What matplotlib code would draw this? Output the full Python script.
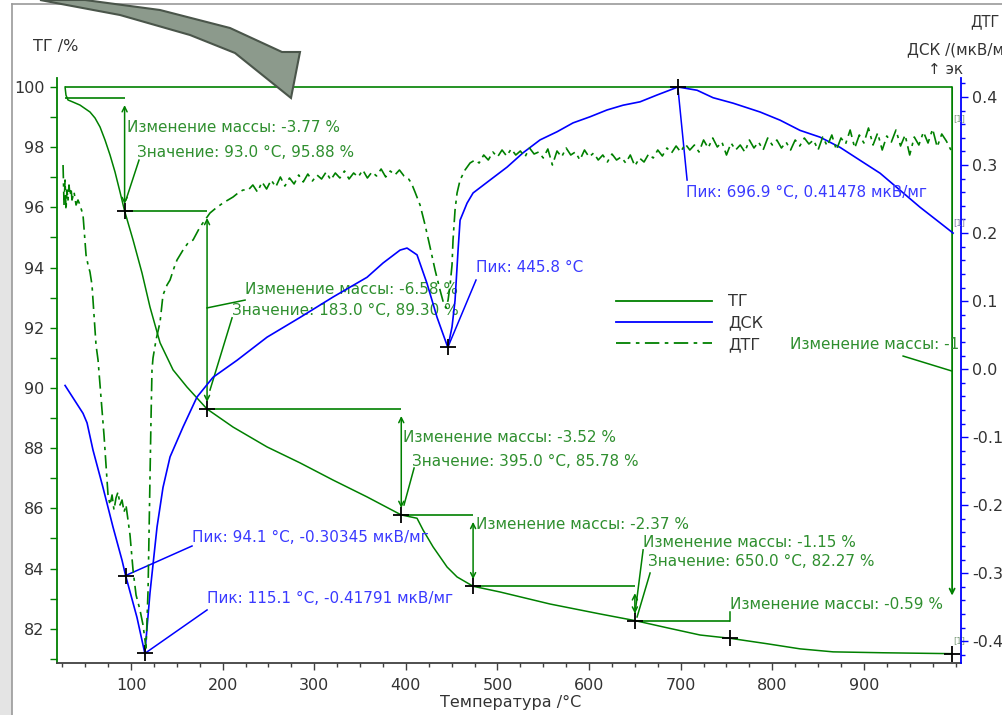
import numpy as np
import matplotlib.pyplot as plt
from matplotlib.ticker import MultipleLocator
from matplotlib.patches import Polygon, Rectangle
from matplotlib.lines import Line2D

plt.rcParams['font.family'] = ['DejaVu Sans']

GREEN = '#008000'
BLUE = '#0000ff'
TXT = '#333333'
GTXT = '#2f8f2f'
BTXT = '#3a3aff'

# ---------------- data ----------------
# TG, %
tg_temp = [28.0, 29.0, 31.2, 36.7, 44.3, 55.2, 60.7, 66.2, 71.6, 77.1, 82.5, 88.0,
           93.0, 102.2, 112.0, 120.7, 131.7, 145.9, 161.1, 183.0, 211.4, 248.5,
           284.5, 320.5, 357.6, 395.0, 412.2, 418.8, 429.7, 445.0, 455.9, 473.4,
           502.8, 557.4, 612.0, 650.0, 685.2, 721.2, 754.0, 794.3, 830.3, 866.4,
           921.0, 996.3]
tg_mass = [100.00, 99.73, 99.57, 99.50, 99.40, 99.17, 98.97, 98.67, 98.24, 97.74,
           97.18, 96.51, 95.88, 94.92, 93.82, 92.69, 91.50, 90.60, 90.03, 89.30,
           88.70, 88.04, 87.51, 86.94, 86.38, 85.78, 85.67, 85.28, 84.72, 84.05,
           83.72, 83.41, 83.22, 82.82, 82.49, 82.27, 82.03, 81.79, 81.68, 81.50,
           81.33, 81.23, 81.20, 81.17]

# DSC, mkV/mg
dsc_temp = [28.0, 47.6, 52.0, 58.5, 69.4, 80.3, 90.2, 94.1, 106.5, 115.1, 120.7,
            128.4, 134.9, 142.6, 156.8, 172.0, 189.5, 215.7, 248.5, 284.5, 320.5,
            357.6, 375.1, 393.7, 401.3, 412.2, 423.1, 434.1, 445.8, 450.4, 453.7,
            457.0, 459.2, 466.8, 473.4, 491.9, 510.5, 527.9, 546.5, 565.1, 582.5,
            601.1, 619.6, 637.1, 655.7, 674.2, 691.7, 696.9, 717.9, 735.4, 757.2,
            786.7, 808.5, 830.3, 852.2, 874.0, 895.8, 917.7, 939.5, 961.3, 983.2,
            997.4]
dsc_val = [-0.024, -0.065, -0.079, -0.119, -0.174, -0.232, -0.281, -0.30345,
           -0.365, -0.41791, -0.329, -0.232, -0.174, -0.129, -0.085, -0.041,
           -0.012, 0.013, 0.047, 0.076, 0.106, 0.135, 0.156, 0.175, 0.178, 0.168,
           0.126, 0.076, 0.032, 0.062, 0.101, 0.175, 0.219, 0.244, 0.259, 0.278,
           0.297, 0.318, 0.337, 0.349, 0.362, 0.371, 0.381, 0.388, 0.393, 0.403,
           0.412, 0.41478, 0.410, 0.399, 0.391, 0.378, 0.366, 0.351, 0.341, 0.326,
           0.307, 0.288, 0.263, 0.238, 0.215, 0.200]

# DTG, %/min
dtg_temp = [25.8, 26.9, 28.0, 29.0, 30.1, 31.2, 32.3, 33.4, 34.5, 35.6, 37.8, 40.0,
            42.1, 44.3, 47.6, 50.9, 53.1, 55.2, 57.4, 59.6, 61.8, 64.0, 66.2, 68.3,
            70.5, 72.7, 74.9, 77.1, 79.3, 81.4, 83.6, 85.8, 88.0, 90.2, 92.4, 94.5,
            96.7, 98.9, 102.2, 105.5, 109.8, 113.1, 115.3, 116.4, 117.5, 118.6,
            119.7, 120.7, 121.8, 122.9, 124.0, 127.3, 131.7, 134.9, 139.3, 142.6,
            146.9, 150.2, 156.8, 162.2, 167.7, 175.3, 180.8, 186.2, 192.8, 200.4,
            205.9, 211.4, 216.8, 222.3,
            228, 233, 238, 243, 248, 253, 258, 263, 268, 273, 278, 283, 288, 293,
            298, 303, 308, 313, 318, 323, 328, 333, 338, 343, 348, 353, 358, 363,
            368, 373, 378, 383, 388, 393, 398, 403, 406,
            410.0, 415.5, 421.0, 426.4, 431.9, 437.3, 441.7, 443.9, 446.1, 448.3,
            450.4, 451.5, 453.7, 455.9, 459.2, 464.6, 470.1, 475.5,
            480, 485, 490, 495, 500, 505, 510, 515, 520, 525, 530, 535, 540, 545,
            550, 555, 560, 565, 570, 575, 580, 585, 590, 595, 600, 605, 610, 615,
            620, 625, 630, 635, 640, 645, 650, 655, 660, 665, 670, 675, 680, 685,
            690, 695, 700, 705, 710, 715, 720, 725, 730, 735, 740, 745, 750, 755,
            760, 765, 770, 775, 780, 785, 790, 795, 800, 805, 810, 815, 820, 825,
            830, 835, 840, 845, 850, 855, 860, 865, 870, 875, 880, 885, 890, 895,
            900, 905, 910, 915, 920, 925, 930, 935, 940, 945, 950, 955, 960, 965,
            970, 975, 980, 985, 990, 995]
dtg_val = [0.00, -0.40, -0.15, -0.45, -0.25, -0.35, -0.20, -0.30, -0.23, -0.35,
           -0.27, -0.40, -0.35, -0.40, -0.50, -0.90, -1.00, -1.07, -1.20, -1.50,
           -1.80, -1.95, -2.20, -2.45, -2.70, -3.00, -3.30, -3.40, -3.30, -3.45,
           -3.33, -3.27, -3.40, -3.35, -3.47, -3.40, -3.55, -3.70, -4.05, -4.30,
           -4.45, -4.60, -4.75, -4.83, -4.55, -4.25, -3.65, -3.15, -2.55, -2.05,
           -1.93, -1.75, -1.57, -1.30, -1.20, -1.15, -1.03, -0.95, -0.85, -0.78,
           -0.75, -0.62, -0.55, -0.48, -0.43, -0.38, -0.35, -0.32, -0.28, -0.25,
           -0.25, -0.20, -0.27, -0.17, -0.24, -0.15, -0.22, -0.12, -0.21, -0.13,
           -0.19, -0.10, -0.17, -0.09, -0.16, -0.10, -0.14, -0.07, -0.15, -0.08,
           -0.13, -0.06, -0.14, -0.08, -0.12, -0.05, -0.13, -0.07, -0.11, -0.04,
           -0.12, -0.06, -0.10, -0.05, -0.11, -0.14, -0.18,
           -0.27, -0.40, -0.60, -0.82, -1.05, -1.25, -1.40, -1.43, -1.35, -1.20,
           -1.00, -0.75, -0.45, -0.28, -0.15, -0.05, 0.02, 0.05,
           0.02, 0.10, 0.05, 0.13, 0.08, 0.15, 0.09, 0.16, 0.10, 0.14, 0.08, 0.17,
           0.11, 0.13, 0.07, 0.16, 0.00, 0.14, 0.08, 0.17, 0.10, 0.13, 0.05, 0.15,
           0.08, 0.12, 0.05, 0.10, 0.03, 0.11, 0.05, 0.08, 0.02, 0.10, -0.01, 0.07,
           0.03, 0.11, 0.07, 0.15, 0.09, 0.17, 0.12, 0.19, 0.13, 0.21, 0.15, 0.20,
           0.13, 0.25, 0.17, 0.27, 0.18, 0.23, 0.10, 0.22, 0.15, 0.20, 0.13, 0.25,
           0.17, 0.23, 0.15, 0.27, 0.20, 0.25, 0.17, 0.23, 0.15, 0.25, 0.19, 0.27,
           0.21, 0.25, 0.15, 0.28, 0.19, 0.30, 0.15, 0.27, 0.21, 0.35, 0.17, 0.30,
           0.22, 0.37, 0.20, 0.32, 0.15, 0.29, 0.23, 0.35, 0.19, 0.30, 0.10, 0.28,
           0.20, 0.33, 0.22, 0.36, 0.18, 0.31, 0.24, 0.15]

# mass change steps (ТГ)
step_temp = [28.0, 93.0, 183.0, 395.0, 473.4, 650.0, 754.0]
step_mass = [99.63, 95.88, 89.30, 85.78, 83.41, 82.27, 81.68]
step_change = ['-3.77', '-6.58', '-3.52', '-2.37', '-1.15', '-0.59']
total_change_visible = '-1'   # the rest is hidden behind the right axis in the original
end_temp = 996.3
end_mass = 81.17

# DSC peaks
peak_temp = [94.1, 115.1, 445.8, 696.9]
peak_val = [-0.30345, -0.41791, 0.032, 0.41478]
peak_text = ['Пик: 94.1 °C, -0.30345 мкВ/мг', 'Пик: 115.1 °C, -0.41791 мкВ/мг',
             'Пик: 445.8 °C', 'Пик: 696.9 °C, 0.41478 мкВ/мг']

# ---------------- figure ----------------
W, H = 1003, 715
fig = plt.figure(figsize=(W / 100, H / 100), dpi=100)

def fx(px):
    return px / W

def fy(py):
    return 1 - py / H

# slide background / frame
fig.patches.append(Rectangle((0, 0), fx(12), fy(180), transform=fig.transFigure,
                             facecolor='#e4e4e4', edgecolor='none', zorder=0))
fig.add_artist(Line2D([fx(12), fx(12)], [0, fy(4)], color='#9a9a9a', lw=1.2))
fig.add_artist(Line2D([fx(12), 1], [fy(4), fy(4)], color='#9a9a9a', lw=1.2))

ax = fig.add_axes([fx(57), fy(663), fx(961 - 57), (663 - 78) / H])
ax2 = ax.twinx()
ax3 = ax.twinx()

ax.plot(tg_temp, tg_mass, color=GREEN, lw=1.1, zorder=3)
ax2.plot(dsc_temp, dsc_val, color=BLUE, lw=1.2, zorder=3)
ax3.plot(dtg_temp, dtg_val, color=GREEN, lw=1.2, ls=(0, (8, 3, 2, 3)), zorder=3)

ax.set_xlim(19.2, 1006)
ax.set_ylim(80.86, 100.3)
ax2.set_ylim(-0.432, 0.428)
ax3.set_ylim(-4.98, 0.87)

# spines / ticks
for s in ['top', 'right']:
    ax.spines[s].set_visible(False)
ax.spines['left'].set_color(GREEN)
ax.spines['left'].set_linewidth(1.3)
ax.spines['bottom'].set_color('#404040')
ax.spines['bottom'].set_linewidth(1.3)
for s in ['top', 'left', 'bottom']:
    ax2.spines[s].set_visible(False)
ax2.spines['right'].set_color(BLUE)
ax2.spines['right'].set_linewidth(1.3)
for s in ax3.spines.values():
    s.set_visible(False)
ax3.set_yticks([])

ax.set_xticks(range(100, 1000, 100))
ax.xaxis.set_minor_locator(MultipleLocator(25))
ax.set_yticks(range(82, 101, 2))
ax.yaxis.set_minor_locator(MultipleLocator(1))
ax.tick_params(axis='y', which='both', direction='out', length=5, width=1,
               color=GREEN, labelcolor=TXT, labelsize=11.5, pad=4)
ax.tick_params(axis='x', which='major', direction='out', length=5, width=1,
               color='#404040', labelcolor=TXT, labelsize=11.5, pad=6)
ax.tick_params(axis='x', which='minor', direction='out', length=3, width=1,
               color='#404040')
ax2.set_yticks([-0.4, -0.3, -0.2, -0.1, 0.0, 0.1, 0.2, 0.3, 0.4])
ax2.set_yticklabels(['-0.4', '-0.3', '-0.2', '-0.1', '0.0', '0.1', '0.2', '0.3', '0.4'])
ax2.yaxis.set_minor_locator(MultipleLocator(0.02))
ax2.tick_params(axis='y', which='major', direction='out', length=5, width=1,
                color=BLUE, labelcolor=TXT, labelsize=11.5, pad=3)
ax2.tick_params(axis='y', which='minor', direction='out', length=3, width=1,
                color=BLUE)

# ---------------- mass change annotations ----------------
fs = 11
ax.hlines(100, step_temp[0], end_temp, color=GREEN, lw=1.2, zorder=2)
arrow_kw = dict(arrowstyle='<->', color=GREEN, lw=1.1, mutation_scale=9,
                shrinkA=5, shrinkB=5)
for i in range(1, len(step_temp)):
    t0, t1 = step_temp[i - 1], step_temp[i]
    m0, m1 = step_mass[i - 1], step_mass[i]
    ax.hlines(m0, t0, t1, color=GREEN, lw=1.2, zorder=2)
    if i < len(step_temp) - 1:
        ax.annotate('', xy=(t1, m1), xytext=(t1, m0), arrowprops=arrow_kw, zorder=2)
    ax.plot(t1, m1, marker='+', color='black', ms=11, mew=1.3, zorder=5)

# text positions (data coords of the TG axis)
chg_pos = [(95.6, 98.64), (224.5, 93.26), (396.9, 88.37), (476.6, 85.45),
           (659.0, 84.88), (754.0, 82.79)]
for (tx, ty), c in zip(chg_pos, step_change):
    ax.text(tx, ty, 'Изменение массы: ' + c + ' %', color=GTXT, fontsize=fs,
            va='center', ha='left', zorder=6)

val_idx = [1, 2, 3, 5]
val_pos = [(106.6, 97.84), (210.3, 92.56), (406.8, 87.57), (664.4, 84.22)]
for i, (tx, ty) in zip(val_idx, val_pos):
    ax.text(tx, ty, 'Значение: %.1f °C, %.2f %%' % (step_temp[i], step_mass[i]),
            color=GTXT, fontsize=fs, va='center', ha='left', zorder=6)

# leader lines
leaders = [((94.5, 96.25), (108.7, 97.57)),
           ((183.0, 92.66), (224.5, 92.92)),
           ((186.2, 89.93), (210.3, 92.33)),
           ((398.0, 86.11), (409.0, 87.34)),
           ((650.2, 82.52), (659.0, 84.62)),
           ((652.4, 82.39), (666.6, 83.85)),
           ((754.0, 82.27), (754.0, 82.55)),
           ((942.8, 91.06), (end_temp, 90.56))]
for (a, b) in leaders:
    ax.plot([a[0], b[0]], [a[1], b[1]], color=GREEN, lw=1.1, zorder=2)

# total change
ax.annotate('', xy=(end_temp, 83.1), xytext=(end_temp, 100),
            arrowprops=dict(arrowstyle='->', color=GREEN, lw=1.3, mutation_scale=9,
                            shrinkA=0, shrinkB=0), zorder=2)
ax.text(819.4, 91.43, 'Изменение массы: ' + total_change_visible, color=GTXT,
        fontsize=fs, va='center', ha='left', zorder=6)
ax.plot(end_temp, end_mass, marker='+', color='black', ms=11, mew=1.3, zorder=5)

# ---------------- DSC peaks ----------------
txt_pos = [(166.6, -0.247), (183.0, -0.337), (476.6, 0.149), (705.9, 0.259)]
lead_end = [(166.6, -0.260), (183.0, -0.354), (476.6, 0.131), (707.0, 0.278)]
for t, v, s, (tx, ty), (lx, ly) in zip(peak_temp, peak_val, peak_text, txt_pos, lead_end):
    ax2.plot([t, lx], [v, ly], color=BLUE, lw=1.1, zorder=2)
    ax2.plot(t, v, marker='+', color='black', ms=11, mew=1.3, zorder=5)
    ax2.text(tx, ty, s, color=BTXT, fontsize=fs, va='center', ha='left', zorder=6)

# curve labels [1]
ax3.text(998, 0.46, '[1]', color='#7a9a7a', fontsize=6, va='center', ha='left')
ax2.text(998, 0.215, '[1]', color='#7a7aaa', fontsize=6, va='center', ha='left')
ax.text(998, 81.6, '[1]', color='#7a9a7a', fontsize=6, va='center', ha='left')

# ---------------- legend ----------------
handles = [Line2D([], [], color=GREEN, lw=1.3),
           Line2D([], [], color=BLUE, lw=1.3),
           Line2D([], [], color=GREEN, lw=1.3, ls=(0, (8, 3, 2, 3)))]
leg = ax3.legend(handles, ['ТГ', 'ДСК', 'ДТГ'], loc='upper left',
                 bbox_to_anchor=(0.603, 0.655), frameon=False, fontsize=11.5,
                 handlelength=6.0, handletextpad=1.0, labelspacing=0.4)
for t in leg.get_texts():
    t.set_color(TXT)

# ---------------- axis titles ----------------
fig.text(fx(33), fy(47), 'ТГ /%', fontsize=11.5, color=TXT, va='center', ha='left')
fig.text(fx(440), fy(702), 'Температура /°C', fontsize=11.5, color=TXT,
         va='center', ha='left')
fig.text(fx(970), fy(22), 'ДТГ', fontsize=10.5, color=TXT, va='center', ha='left')
fig.text(fx(907), fy(50), 'ДСК /(мкВ/м', fontsize=11, color=TXT, va='center', ha='left')
fig.text(fx(928), fy(70), '↑ эк', fontsize=11, color=TXT, va='center', ha='left')

# ---------------- decorative slide arrow ----------------
lower = [(40, 0), (120, 15), (190, 35), (238, 55)]
upper = [(282, 52), (230, 28), (160, 10), (85, 0)]
head = [(235, 53), (291, 98), (300, 52)]
pts = lower[:-1] + [head[0], head[1], head[2]] + upper
fig.patches.append(Polygon([(fx(x), fy(y)) for x, y in pts], closed=True,
                           transform=fig.transFigure, facecolor='#8c9a8c',
                           edgecolor='#4a554a', lw=1.5, zorder=10))

fig.savefig('out.png', dpi=100)
